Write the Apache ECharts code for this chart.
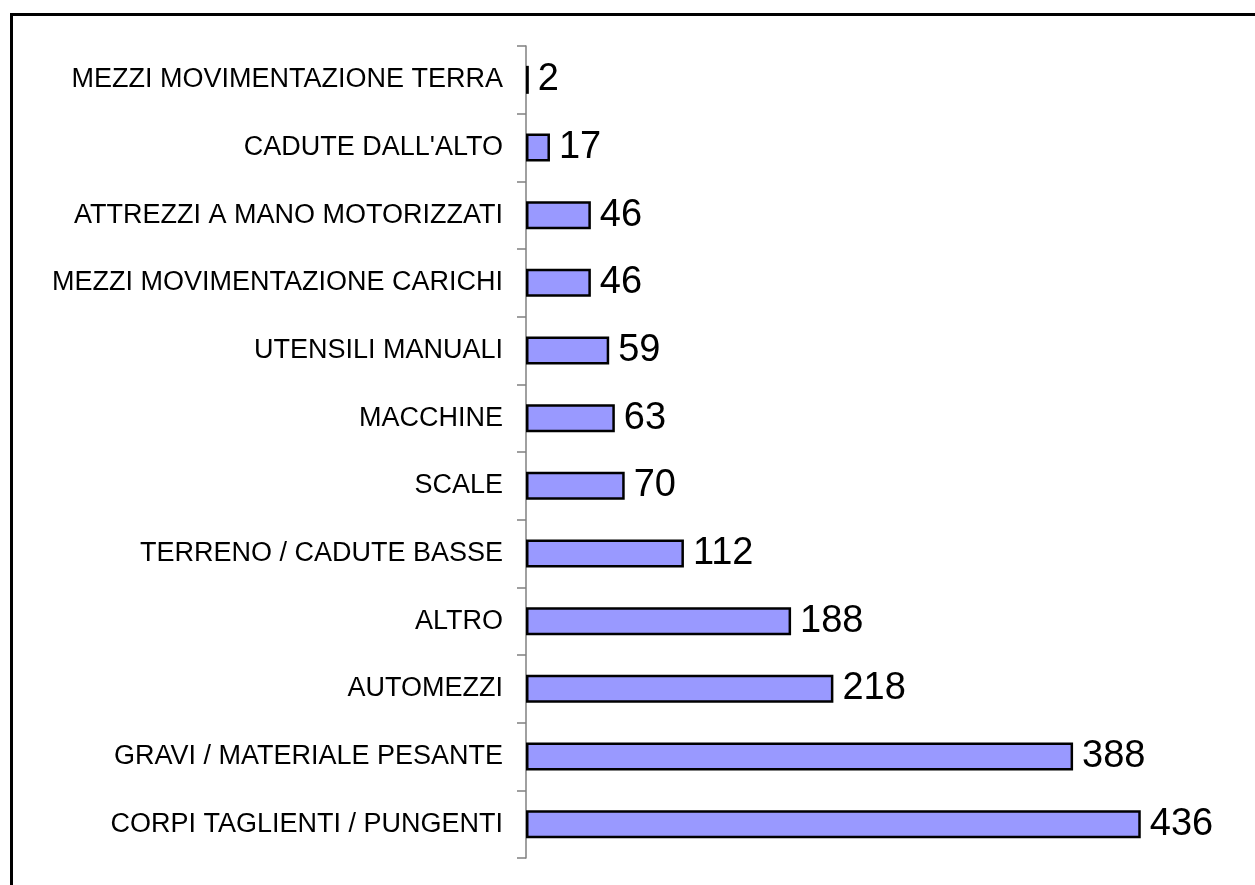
<!DOCTYPE html>
<html>
<head>
<meta charset="utf-8">
<script src="https://cdn.jsdelivr.net/npm/echarts@6/dist/echarts.min.js"></script>
<style>
  html, body { margin: 0; padding: 0; background: #fff; overflow: hidden; }
  #frame { position: absolute; left: 10px; top: 13px; width: 1300px; height: 900px; border: 3px solid #000; }
  #main { position: absolute; left: 0; top: 0; width: 1255px; height: 885px; }
</style>
</head>
<body>
<div id="frame"></div>
<div id="main"></div>
<script>
// top to bottom as in the picture
const categories = [
  'MEZZI MOVIMENTAZIONE TERRA',
  "CADUTE DALL'ALTO",
  'ATTREZZI A MANO MOTORIZZATI',
  'MEZZI MOVIMENTAZIONE CARICHI',
  'UTENSILI MANUALI',
  'MACCHINE',
  'SCALE',
  'TERRENO / CADUTE BASSE',
  'ALTRO',
  'AUTOMEZZI',
  'GRAVI / MATERIALE PESANTE',
  'CORPI TAGLIENTI / PUNGENTI'
];
const counts = [2, 17, 46, 46, 59, 63, 70, 112, 188, 218, 388, 436];

var chartDom = document.getElementById('main');
var myChart = echarts.init(chartDom);
var option = {
  animation: false,
  grid: { left: 526, top: 46, bottom: 27, width: 705 },
  xAxis: {
    type: 'value',
    min: 0,
    max: 500,
    show: false
  },
  yAxis: {
    type: 'category',
    data: categories,
    inverse: true,
    axisLine: { show: true, lineStyle: { color: '#808080', width: 1.5 } },
    axisTick: { show: true, inside: false, length: 9, lineStyle: { color: '#808080', width: 1.5 } },
    axisLabel: {
      color: '#000',
      fontFamily: 'Liberation Sans, Arial, sans-serif',
      fontSize: 27,
      margin: 23
    },
    splitLine: { show: false }
  },
  series: [
    {
      type: 'bar',
      data: counts,
      barWidth: 28,
      itemStyle: { color: '#9999ff', borderColor: '#000', borderWidth: 2.5 },
      label: {
        show: true,
        position: 'right',
        distance: 9,
        color: '#000',
        fontFamily: 'Liberation Sans, Arial, sans-serif',
        fontSize: 38
      }
    }
  ]
};
option && myChart.setOption(option);
</script>
</body>
</html>
